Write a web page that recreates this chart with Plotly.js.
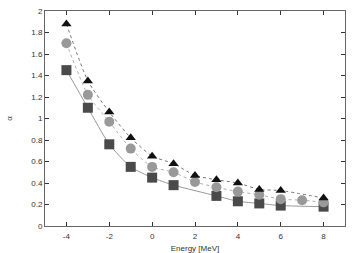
<!DOCTYPE html>
<html>
<head>
<meta charset="utf-8">
<script src="https://cdn.plot.ly/plotly-3.0.1.min.js"></script>
<style>html,body{margin:0;padding:0;background:#fff;}#chart{width:361px;height:253px;}</style>
</head>
<body>
<div id="chart"></div>
<script>
const triX = [-4, -3, -2, -1, 0, 1, 2, 3, 4, 5, 6, 8];
const triY = [1.88, 1.35, 1.06, 0.82, 0.65, 0.58, 0.47, 0.43, 0.40, 0.34, 0.33, 0.26];
const cirX = [-4, -3, -2, -1, 0, 1, 2, 3, 4, 5, 6, 7, 8];
const cirY = [1.70, 1.22, 0.97, 0.72, 0.55, 0.50, 0.41, 0.36, 0.32, 0.29, 0.25, 0.24, 0.22];
const sqX = [-4, -3, -2, -1, 0, 1, 3, 4, 5, 6, 8];
const sqY = [1.45, 1.10, 0.76, 0.55, 0.45, 0.38, 0.28, 0.23, 0.21, 0.19, 0.18];
const xTicks = [-4, -2, 0, 2, 4, 6, 8];
const yTicks = [0, 0.2, 0.4, 0.6, 0.8, 1, 1.2, 1.4, 1.6, 1.8, 2];

const traces = [
  {x: sqX, y: sqY, mode: 'lines', line: {color: '#999', width: 1, shape: 'spline', smoothing: 0.6}, hoverinfo: 'skip'},
  {x: cirX, y: cirY, mode: 'lines', line: {color: '#b0b0b0', width: 1, dash: 'dot', shape: 'spline', smoothing: 0.6}, hoverinfo: 'skip'},
  {x: triX, y: triY, mode: 'lines', line: {color: '#777', width: 1, dash: 'dot', shape: 'spline', smoothing: 0.6}, hoverinfo: 'skip'},
  {x: sqX, y: sqY, mode: 'markers', marker: {symbol: 'square', size: 10, color: '#4a4a4a', line: {width: 0}}},
  {x: cirX, y: cirY, mode: 'markers', marker: {symbol: 'circle', size: 10, color: '#999999', line: {width: 0}}},
  {x: triX, y: triY, mode: 'markers', marker: {symbol: 'triangle-up', size: 9, color: '#111111', line: {width: 0}}}
];

const axisCommon = {
  showgrid: false, zeroline: false, showline: true, mirror: 'ticks',
  linecolor: '#666', linewidth: 1, ticks: 'inside', ticklen: 4, tickcolor: '#333', tickwidth: 1,
  tickfont: {family: 'Liberation Sans, Arial, sans-serif', size: 8, color: '#333'}
};

const layout = {
  width: 361, height: 253,
  margin: {l: 45, r: 16, t: 11, b: 27},
  showlegend: false,
  paper_bgcolor: '#fff', plot_bgcolor: '#fff',
  xaxis: Object.assign({}, axisCommon, {
    range: [-5, 9], tickvals: xTicks, ticktext: xTicks.map(String),
    ticklabelstandoff: 2,
    title: {text: 'Energy [MeV]', font: {family: 'Liberation Sans, Arial, sans-serif', size: 8, color: '#333'}, standoff: 6}
  }),
  yaxis: Object.assign({}, axisCommon, {
    range: [0, 2], tickvals: yTicks, ticktext: yTicks.map(String),
    title: {text: 'α', font: {family: 'Liberation Sans, Arial, sans-serif', size: 8, color: '#333'}, standoff: 17}
  })
};

Plotly.newPlot('chart', traces, layout, {displayModeBar: false, staticPlot: true});
</script>
</body>
</html>
